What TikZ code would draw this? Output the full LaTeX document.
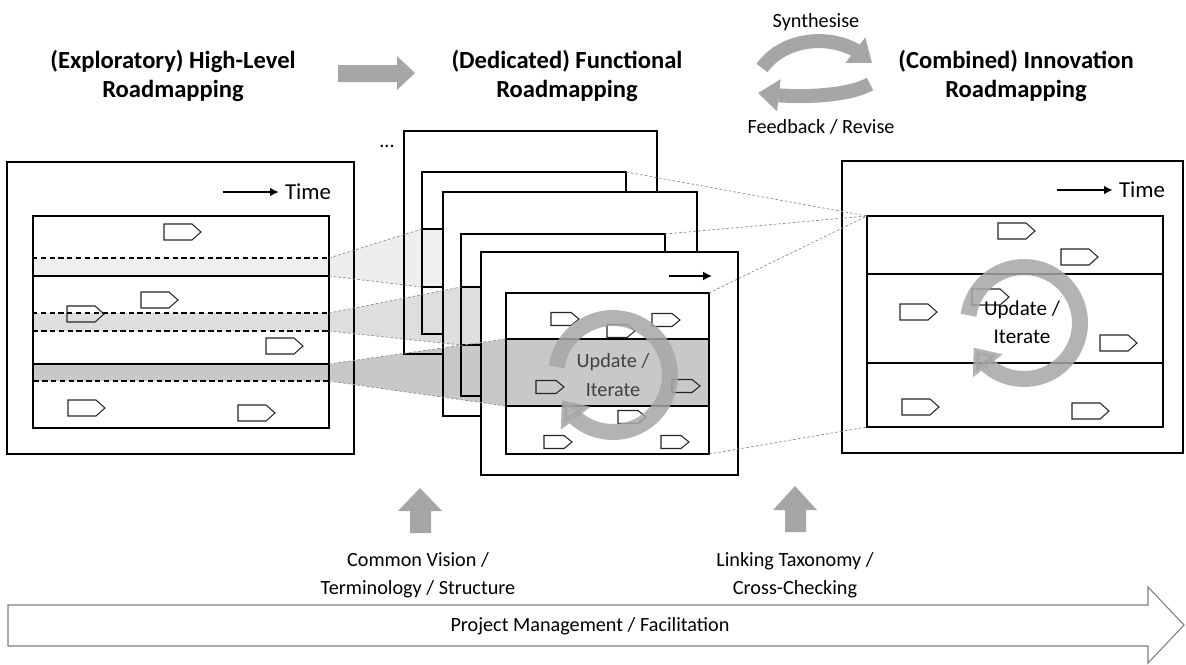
\documentclass[tikz,border=0pt]{standalone}
\usepackage{fontspec}
\setmainfont{Carlito}
\usepackage{xcolor}
\usetikzlibrary{arrows.meta, bending, positioning}

\definecolor{arrgray}{RGB}{166,166,166}
\definecolor{edgegray}{RGB}{127,127,127}
\definecolor{lanea}{RGB}{239,239,239}
\definecolor{laneb}{RGB}{222,222,222}
\definecolor{lanec}{RGB}{200,200,200}

\begin{document}
\begin{tikzpicture}[x=0.02cm,y=-0.02cm,line join=miter]
      \tikzstyle{frame}=[draw=black,line width=1.1pt,fill=white]
      \tikzstyle{inbox}=[draw=black,line width=0.8pt]
      \tikzstyle{lane}=[draw=black,line width=0.7pt]
      \tikzstyle{band}=[draw=black,line width=0.7pt,dash pattern=on 3pt off 2pt]
      \tikzstyle{mstone}=[draw=black!85,line width=0.6pt]
      \tikzstyle{guide}=[draw=black!45,line width=0.4pt,dash pattern=on 1.5pt off 1.2pt]
      \tikzstyle{cone}=[fill=black]
      \tikzstyle{timearrow}=[draw=black,line width=1.2pt,-{Latex[length=5pt,width=5pt]}]
      \tikzstyle{ring}=[draw=arrgray,line width=0.32cm,opacity=0.85,-{Triangle[width=0.72cm,length=0.46cm]}]
      \tikzstyle{cycle}=[draw=arrgray,line width=0.28cm,-{Triangle[width=0.62cm,length=0.42cm]}]
      \tikzstyle{block}=[fill=arrgray]
      \tikzstyle{title}=[font=\fontsize{14}{17}\selectfont\bfseries,align=center]
      \tikzstyle{label}=[font=\fontsize{11.5}{16}\selectfont,align=center]

      \useasboundingbox (0,0) rectangle (1186,664);

      % headings
      \node[title](h_1) at (173,76) {(Exploratory) High-Level\\Roadmapping};
      \node[title](h_2) at (567,76) {(Dedicated) Functional\\Roadmapping};
      \node[title](h_3) at (1016,76) {(Combined) Innovation\\Roadmapping};
      \fill[block] (338,65) -- (397,65) -- (397,56) -- (415,73) -- (397,90)
                   -- (397,82) -- (338,82) -- cycle;

      \node[label](syn) at (816,22) {Synthesise};
      \node[label](fb) at (821,127) {Feedback / Revise};
      \draw[cycle] (762,68) .. controls (787,33) and (845,33) .. (872,63);
      \draw[cycle] (870,84) .. controls (845,98) and (787,98) .. (758,93);

      % high-level roadmap
      \draw[frame] (7,162) rectangle (354,454);
      \fill[lanea] (33,258) rectangle (329,276);
      \fill[laneb] (33,313) rectangle (329,331);
      \fill[lanec] (33,364) rectangle (329,381);
      \draw[inbox] (33,216) rectangle (329,428);
      \draw[lane] (33,276) -- (329,276) (33,364) -- (329,364);
      \draw[band] (33,258) rectangle (329,276);
      \draw[band] (33,313) rectangle (329,331);
      \draw[band] (33,364) rectangle (329,381);
      \foreach \x/\y in {164/232,141/300,67/314,266/346,68/408,238/413}
        \draw[mstone] (\x,\y-8) -- ++(28,0) -- ++(9,8) -- ++(-9,8) -- ++(-28,0) -- cycle;
      \node[font=\fontsize{13}{15}\selectfont](t_1) at (308,192) {Time};
      \draw[timearrow] ([xshift=-1.12cm]t_1.west) -- (t_1.west);

      % functional roadmaps
      \node[label](dots) at (387,146) {...};
      \draw[frame] (404,131) rectangle (657,354);
      \fill[lanea] (422,229) rectangle (626,287);
      \draw[inbox] (422,172) rectangle (626,334);
      \draw[lane] (422,229) -- (626,229) (422,287) -- (626,287);

      \draw[frame] (443,192) rectangle (697,416);
      \fill[laneb] (461,287) rectangle (665,345);
      \draw[inbox] (461,234) rectangle (665,396);
      \draw[lane] (461,287) -- (665,287) (461,345) -- (665,345);

      \draw[frame] (481,252) rectangle (738,475);
      \fill[lanec] (506,339) rectangle (709,406);
      \draw[inbox] (506,293) rectangle (709,454);
      \draw[lane] (506,339) -- (709,339) (506,406) -- (709,406);
      \coordinate (ta_2) at (669,276);
      \coordinate (tb_2) at (712,276);
      \draw[timearrow] (ta_2) -- (tb_2);
      \foreach \x/\y in {551/319,652/320,607/331,536/387,672/386,618/417,544/442,661/442}
        \draw[mstone] (\x,\y-6.5) -- ++(20,0) -- ++(8,6.5) -- ++(-8,6.5) -- ++(-20,0) -- cycle;

      % innovation roadmap
      \draw[frame] (842,161) rectangle (1183,453);
      \draw[inbox] (867,216) rectangle (1163,427);
      \draw[lane] (867,274) -- (1163,274) (867,363) -- (1163,363);
      \foreach \x/\y in {998/231,1061/257,972/297,900/312,1100/343,902/407,1072/411}
        \draw[mstone] (\x,\y-8) -- ++(28,0) -- ++(9,8) -- ++(-9,8) -- ++(-28,0) -- cycle;
      \node[font=\fontsize{13}{15}\selectfont](t_3) at (1142,190) {Time};
      \draw[timearrow] ([xshift=-1.12cm]t_3.west) -- (t_3.west);

      % projections
      \coordinate (b1_t) at (329,258);  \coordinate (b1_b) at (329,276);
      \coordinate (b2_t) at (329,313);  \coordinate (b2_b) at (329,331);
      \coordinate (b3_t) at (329,364);  \coordinate (b3_b) at (329,381);
      \coordinate (fa_t) at (422,229);  \coordinate (fa_b) at (422,287);
      \coordinate (fb_t) at (461,287);  \coordinate (fb_b) at (461,345);
      \coordinate (fc_t) at (506,339);  \coordinate (fc_b) at (506,406);
      \fill[cone,fill opacity=0.065] (b1_t) -- (fa_t) -- (fa_b) -- (b1_b) -- cycle;
      \fill[cone,fill opacity=0.13] (b2_t) -- (fb_t) -- (fb_b) -- (b2_b) -- cycle;
      \fill[cone,fill opacity=0.215] (b3_t) -- (fc_t) -- (fc_b) -- (b3_b) -- cycle;
      \draw[guide] (b1_t) -- (fa_t) (b1_b) -- (fa_b)
                   (b2_t) -- (fb_t) (b2_b) -- (fb_b)
                   (b3_t) -- (fc_t) (b3_b) -- (fc_b);

      \coordinate (ia_ne) at (626,172);
      \coordinate (ib_ne) at (665,234);
      \coordinate (ic_ne) at (709,293);
      \coordinate (ic_se) at (709,454);
      \coordinate (r_nw) at (867,216);
      \coordinate (r_sw) at (867,427);
      \draw[guide] (ia_ne) -- (r_nw) (ib_ne) -- (r_nw) (ic_ne) -- (r_nw) (ic_se) -- (r_sw);

      % update / iterate
      \draw[ring] ([shift={(-172:57)}]613,375) arc[start angle=-172,end angle=154,radius=57];
      \node[label,text=black!75](upd_2) at (613,375) {Update /\\Iterate};
      \draw[ring] ([shift={(-172:56)}]1024,323) arc[start angle=-172,end angle=154,radius=56];
      \node[label,font=\fontsize{12}{16}\selectfont](upd_3) at (1022,322) {Update /\\Iterate};

      % inputs
      \fill[block] (410,533) -- (410,511) -- (398,511) -- (420,488) -- (442,511)
                   -- (431,511) -- (431,533) -- cycle;
      \fill[block] (785,532) -- (785,510) -- (773,510) -- (795,486) -- (817,510)
                   -- (806,510) -- (806,532) -- cycle;
      \node[label](cv) at (418,575) {Common Vision /\\Terminology / Structure};
      \node[label](lt) at (795,575) {Linking Taxonomy /\\Cross-Checking};

      % project management
      \draw[draw=edgegray,line width=0.6pt,fill=white] (8,605) -- (1148,605) -- (1148,587)
            -- (1184,625) -- (1148,663) -- (1148,646) -- (8,646) -- cycle;
      \node[label](pm) at (590,626) {Project Management / Facilitation};
\end{tikzpicture}
\end{document}
